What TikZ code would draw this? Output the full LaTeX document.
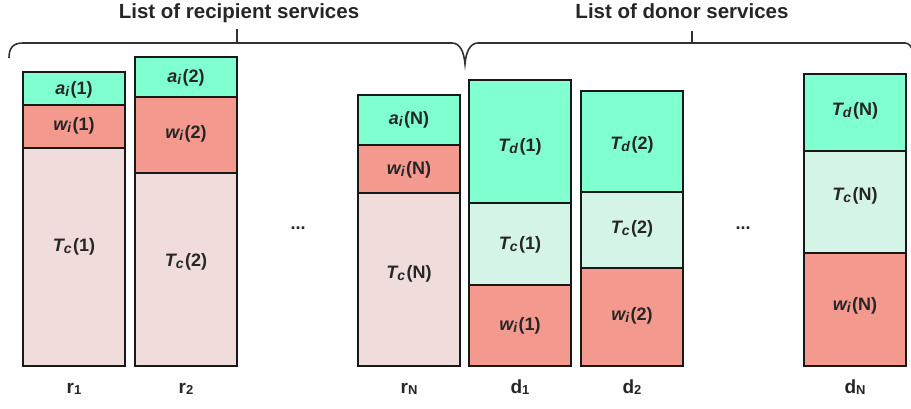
\documentclass[tikz,border=0pt]{standalone}
\usepackage{fontspec}
\setmainfont{Liberation Sans}
\definecolor{cgreen}{RGB}{128,255,208}
\definecolor{csalmon}{RGB}{244,153,141}
\definecolor{cpink}{RGB}{240,220,219}
\definecolor{cmint}{RGB}{213,244,232}
\definecolor{ctext}{RGB}{38,38,38}
\definecolor{cline}{RGB}{24,24,24}
\definecolor{cbrace}{RGB}{50,50,50}
\newcommand\vsym[2]{{\itshape #1}\raisebox{-2.2pt}{\fontsize{14}{14}\selectfont\itshape #2}\hspace{1.5pt}}
\newcommand\blab[2]{#1\raisebox{-1.5pt}{\fontsize{13}{13}\selectfont #2}}
\newcommand\seg[6]{\node[segbox, fill=#6, minimum width={#4-#2}, minimum height={#5-#3}] (#1) at ({(#2+#4)/2},{(#3+#5)/2}) {};}
\begin{document}
\begin{tikzpicture}[x=1pt,y=-1pt,
  segbox/.style={draw=cline, line width=1.9pt, rectangle, inner sep=0pt, outer sep=0pt},
  seglab/.style={text=ctext, font=\fontsize{18}{20}\selectfont\bfseries, inner sep=0pt},
  botlab/.style={text=ctext, font=\fontsize{19}{22}\selectfont\bfseries, inner sep=0pt, anchor=base},
  titlab/.style={text=ctext, font=\fontsize{20.5}{24}\selectfont\bfseries, inner sep=0pt, anchor=base},
  bracepath/.style={draw=cbrace, line width=1.6pt}]
\useasboundingbox (0,0) rectangle (911,408);
% recipient 1
\seg{r1a}{23}{72}{125}{105}{cgreen}
\seg{r1w}{23}{105}{125}{148}{csalmon}
\seg{r1t}{23}{148}{125}{366}{cpink}
% recipient 2
\seg{r2a}{135}{57}{237}{97}{cgreen}
\seg{r2w}{135}{97}{237}{173}{csalmon}
\seg{r2t}{135}{173}{237}{366}{cpink}
% recipient N
\seg{rNa}{358}{95}{460}{145}{cgreen}
\seg{rNw}{358}{145}{460}{193}{csalmon}
\seg{rNt}{358}{193}{460}{366}{cpink}
% donor 1
\seg{d1d}{469}{80}{571}{203}{cgreen}
\seg{d1c}{469}{203}{571}{285}{cmint}
\seg{d1w}{469}{285}{571}{366}{csalmon}
% donor 2
\seg{d2d}{581}{91}{683}{192}{cgreen}
\seg{d2c}{581}{192}{683}{268}{cmint}
\seg{d2w}{581}{268}{683}{366}{csalmon}
% donor N
\seg{dNd}{804}{74}{906}{151}{cgreen}
\seg{dNc}{804}{151}{906}{253}{cmint}
\seg{dNw}{804}{253}{906}{366}{csalmon}
% segment labels
\node[seglab] (l-r1a) at (74,90) {\vsym{a}{i}(1)};
\node[seglab] (l-r1w) at (74,126) {\vsym{w}{i}(1)};
\node[seglab] (l-r1t) at (74,247) {\vsym{T}{c}(1)};
\node[seglab] (l-r2a) at (186,78) {\vsym{a}{i}(2)};
\node[seglab] (l-r2w) at (186,134) {\vsym{w}{i}(2)};
\node[seglab] (l-r2t) at (186,262) {\vsym{T}{c}(2)};
\node[seglab] (l-rNa) at (409,120) {\vsym{a}{i}(N)};
\node[seglab] (l-rNw) at (409,170) {\vsym{w}{i}(N)};
\node[seglab] (l-rNt) at (409,274) {\vsym{T}{c}(N)};
\node[seglab] (l-d1d) at (520,147) {\vsym{T}{d}(1)};
\node[seglab] (l-d1c) at (520,245) {\vsym{T}{c}(1)};
\node[seglab] (l-d1w) at (520,326) {\vsym{w}{i}(1)};
\node[seglab] (l-d2d) at (632,145) {\vsym{T}{d}(2)};
\node[seglab] (l-d2c) at (632,229) {\vsym{T}{c}(2)};
\node[seglab] (l-d2w) at (632,316) {\vsym{w}{i}(2)};
\node[seglab] (l-dNd) at (855,111) {\vsym{T}{d}(N)};
\node[seglab] (l-dNc) at (855,196) {\vsym{T}{c}(N)};
\node[seglab] (l-dNw) at (855,306) {\vsym{w}{i}(N)};
% dots
\node[botlab, font=\fontsize{18}{20}\selectfont\bfseries] (dots1) at (298,229) {...};
\node[botlab, font=\fontsize{18}{20}\selectfont\bfseries] (dots2) at (743,229) {...};
% bottom labels
\node[botlab] (lr1) at (74,393) {\blab{r}{1}};
\node[botlab] (lr2) at (186,393) {\blab{r}{2}};
\node[botlab] (lrN) at (409,393) {\blab{r}{N}};
\node[botlab] (ld1) at (520,393) {\blab{d}{1}};
\node[botlab] (ld2) at (632,393) {\blab{d}{2}};
\node[botlab] (ldN) at (855,393) {\blab{d}{N}};
% titles
\node[titlab] (trec) at (239,18) {List of recipient services};
\node[titlab] (tdon) at (682,18) {List of donor services};
% braces
\coordinate (bl) at (9,58);
\coordinate (bv) at (465,64);
\coordinate (br) at (913,52);
\coordinate (t1) at (237,43);
\coordinate (t2) at (692,43);
\draw[bracepath] (bl) .. controls (9,48) and (13,43) .. (23,43) -- (452,43) .. controls (460,43) and (464,52) .. (bv)
  .. controls (466,52) and (470,43) .. (478,43) -- (905,43) .. controls (909,43) and (912,47) .. (br);
\draw[bracepath] (t1) -- ++(0,-14);
\draw[bracepath] (t2) -- ++(0,-12);
\end{tikzpicture}
\end{document}
